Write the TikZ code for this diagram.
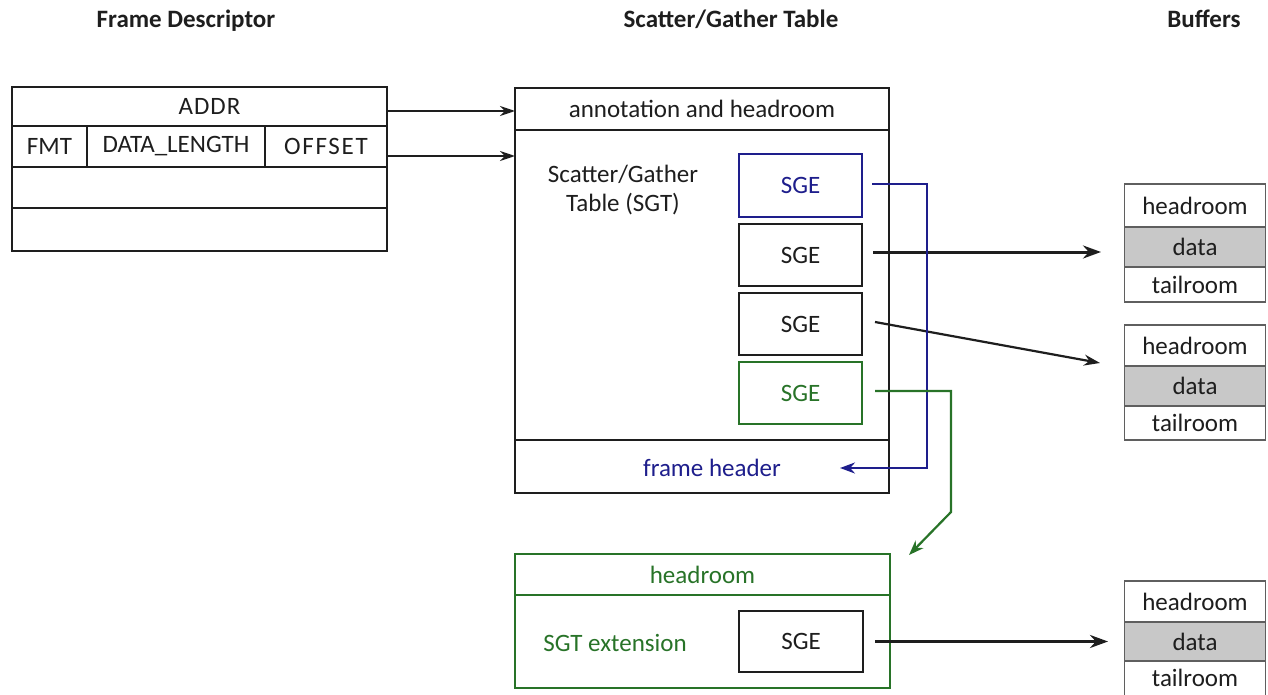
\documentclass[tikz,border=0pt]{standalone}
\usepackage{fontspec}
\setmainfont{Carlito}
\usetikzlibrary{arrows.meta}
\definecolor{sgblue}{RGB}{30,30,140}
\definecolor{sggreen}{RGB}{40,115,40}
\definecolor{ink}{RGB}{30,30,30}
\definecolor{datagray}{RGB}{200,200,200}
\definecolor{bufline}{RGB}{95,95,95}

\begin{document}
\begin{tikzpicture}[x=1pt,y=-1pt,
  txt/.style={font=\fontsize{25}{29}\selectfont, text=ink, inner sep=0pt},
  hdr/.style={font=\bfseries\fontsize{25}{29}\selectfont, text=ink, inner sep=0pt, anchor=base},
  cell/.style={draw=ink, line width=1.7pt, inner sep=0pt, outer sep=0pt, txt},
  sgebox/.style={cell, minimum width=123pt, minimum height=62pt},
  bufcell/.style={draw=bufline, line width=1.4pt, inner sep=0pt, outer sep=0pt,
                  minimum width=141pt, txt},
  datacell/.style={bufcell, fill=datagray},
  arr/.style={draw=ink, line width=3pt, -{Stealth[length=18pt,width=13pt]}},
  thinarr/.style={draw=ink, line width=2.2pt, -{Stealth[length=15pt,width=10pt]}},
  bluearr/.style={draw=sgblue, line width=2.2pt, -{Stealth[length=15pt,width=11pt]}},
  greenarr/.style={draw=sggreen, line width=2.2pt, -{Stealth[length=15pt,width=11pt]}},
]
\fill[white] (0,0) rectangle (1268,695);
\useasboundingbox (0,0) rectangle (1268,695);

% column headings
\node[hdr] (hfd)  at (186,28)  {Frame Descriptor};
\node[hdr] (hsgt) at (731,28)  {Scatter/Gather Table};
\node[hdr] (hbuf) at (1204,28) {Buffers};

% frame descriptor
\node[cell, minimum width=375pt, minimum height=39pt] (addr) at (199.5,106.5)
  {\hspace*{20pt}\addfontfeatures{LetterSpace=4}ADDR};
\node[cell, minimum width=75pt,  minimum height=41pt] (fmt)  at (49.5,146.5)  {FMT};
\node[cell, minimum width=178pt, minimum height=41pt] (dlen) at (176,146.5)   {DATA\_LENGTH};
\node[cell, minimum width=122pt, minimum height=41pt] (off)  at (326,146.5)
  {\addfontfeatures{LetterSpace=7}OFFSET};
\node[cell, minimum width=375pt, minimum height=41pt] (fdr3) at (199.5,187.5) {};
\node[cell, minimum width=375pt, minimum height=43pt] (fdr4) at (199.5,229.5) {};

% scatter/gather table
\node[cell, minimum width=374pt, minimum height=42pt]  (ann)  at (702,109)   {annotation and headroom};
\node[cell, minimum width=374pt, minimum height=310pt] (body) at (702,285)   {};
\node[cell, minimum width=374pt, minimum height=53pt]  (fh)   at (702,466.5) {};
\node[txt, align=center] (sgtlbl) at (623,190) {Scatter/Gather\\Table (SGT)};
\node[txt, text=sgblue] (fhtxt) at (712,468) {frame header};
\coordinate (fhin) at (840,468);

\node[sgebox, draw=sgblue, text=sgblue, minimum height=63pt] (sge1) at (800.5,185.5) {SGE};
\node[sgebox] (sge2) at (800.5,255) {SGE};
\node[sgebox] (sge3) at (800.5,324) {SGE};
\node[sgebox, draw=sggreen, text=sggreen] (sge4) at (800.5,393) {SGE};

% SGT extension
\node[cell, draw=sggreen, text=sggreen, minimum width=375pt, minimum height=41pt] (ehead) at (702.5,574.5) {headroom};
\node[cell, draw=sggreen, minimum width=375pt, minimum height=93pt] (ebody) at (702.5,641.5) {};
\node[txt, text=sggreen] (extlbl) at (615,643) {SGT extension};
\node[sgebox, minimum width=124pt, minimum height=61pt] (esge) at (801,641.5) {SGE};

% buffers
\node[bufcell,  minimum height=43pt] (b1h) at (1195,205.5) {headroom};
\node[datacell, minimum height=40pt] (b1d) at (1195,247)   {data};
\node[bufcell,  minimum height=35pt] (b1t) at (1195,284.5) {tailroom};

\node[bufcell,  minimum height=41pt] (b2h) at (1195,345.5) {headroom};
\node[datacell, minimum height=40pt] (b2d) at (1195,386)   {data};
\node[bufcell,  minimum height=34pt] (b2t) at (1195,423)   {tailroom};

\node[bufcell,  minimum height=41pt] (b3h) at (1195,601.5) {headroom};
\node[datacell, minimum height=39pt] (b3d) at (1195,641.5) {data};
\node[txt, minimum width=141pt, minimum height=34pt] (b3t) at (1195,678) {tailroom};
\draw[draw=bufline, line width=1.4pt] (b3t.south west) -- (b3t.north west)
  (b3t.north east) -- (b3t.south east);

% pointers
\coordinate (b1in) at (1101,252);
\coordinate (b2in) at (1100,363);
\coordinate (b3in) at (1108,641.5);
\coordinate (bluebend) at (927,468);
\coordinate (greenbend) at (951,512);
\coordinate (extin) at (909,555);

\draw[thinarr] ([yshift=-4.5pt]addr.east) -- ([yshift=-4.5pt]addr.east -| ann.west);
\draw[thinarr] ([yshift=-9.5pt]off.east) -- ([yshift=-9.5pt]off.east -| body.west);

\draw[arr] ([xshift=11pt,yshift=3pt]sge2.east) -- (b1in);
\draw[line width=2.2pt, draw=ink, -{Stealth[length=16pt,width=11pt]}]
  ([xshift=13pt,yshift=2pt]sge3.east) -- (b2in);
\draw[arr] ([xshift=12pt]esge.east) -- (b3in);

\draw[bluearr] ([xshift=10pt,yshift=1.5pt]sge1.east) -| (bluebend) -- (fhin);
\draw[greenarr] ([xshift=13pt,yshift=2pt]sge4.east) -| (greenbend) -- (extin);
\end{tikzpicture}
\end{document}
